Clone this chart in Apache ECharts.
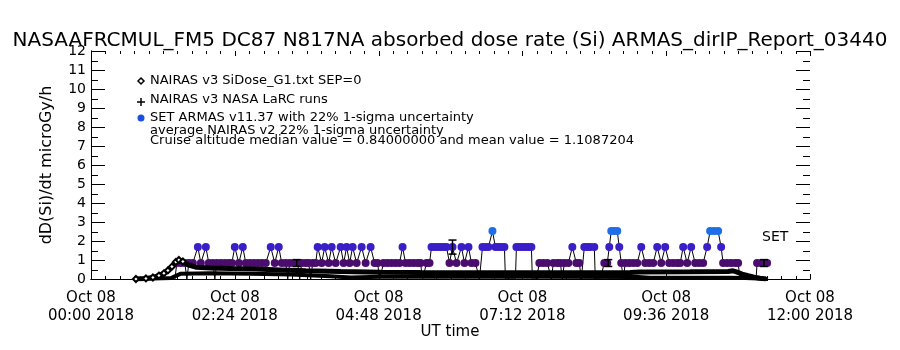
<!DOCTYPE html>
<html>
<head>
<meta charset="utf-8">
<title>ARMAS absorbed dose rate</title>
<script src="https://cdn.jsdelivr.net/npm/echarts@6/dist/echarts.min.js"></script>
<style>
    html, body { margin: 0; padding: 0; background: #fff; }
    #chart { width: 900px; height: 350px; }
</style>
</head>
<body>
<div id="chart"></div>
<script>
// ===== data: time in minutes UT on Oct 08 2018 =====
const xTicks = [0, 144, 288, 432, 576, 720];
const xTickLabels = ['00:00', '02:24', '04:48', '07:12', '09:36', '12:00'];

// NAIRAS v3 SiDose_G1.txt SEP=0 (diamonds)
const sidoseMin = [45, 55, 62, 68, 73, 77, 81, 85, 88, 92, 97, 105, 120, 140, 165, 190, 215, 250, 290, 330, 400, 470, 540, 550, 600, 638, 643, 647, 652, 658, 664, 670, 676];
const sidoseVal = [0, 0.03, 0.08, 0.18, 0.3, 0.45, 0.65, 0.9, 1.0, 0.92, 0.75, 0.62, 0.58, 0.55, 0.52, 0.48, 0.44, 0.4, 0.36, 0.34, 0.33, 0.33, 0.34, 0.37, 0.38, 0.4, 0.43, 0.36, 0.26, 0.17, 0.09, 0.04, 0];

// NAIRAS v3 NASA LaRC runs (plus)
const larcMin = [45, 80, 90, 120, 160, 200, 240, 260, 290, 350, 450, 548, 560, 640, 655, 668, 678];
const larcVal = [0, 0.05, 0.28, 0.3, 0.28, 0.24, 0.15, 0.08, 0.12, 0.12, 0.12, 0.1, 0.07, 0.07, 0.05, 0.02, 0];

// SET ARMAS v11.37
const armasMin = [84, 86, 90, 94, 96, 98, 102, 107, 110, 115, 118, 122, 124, 126, 130, 134, 138, 141, 144, 148,
    152, 155, 159, 163, 167, 171, 175, 180, 184, 188, 191, 195, 197, 199, 203, 207, 209, 211, 215, 218,
    220, 222, 225, 227, 231, 234, 238, 241, 245, 250, 253, 256, 259, 262, 266, 271, 275, 280, 284, 287,
    289, 291, 293, 297, 301, 305, 309, 312, 315, 319, 323, 327, 330, 332, 334, 336, 339, 341, 344, 347,
    350, 353, 356, 359, 362, 366, 371, 374, 378, 381, 385, 389, 392, 395, 398, 402, 405, 408, 411, 414,
    415, 420, 425, 426, 429, 432, 435, 438, 441, 442, 446, 449, 453, 457, 461, 463, 467, 470, 472, 474,
    478, 482, 486, 489, 491, 494, 497, 500, 504, 505, 510, 514, 517, 519, 521, 524, 527, 529, 531, 533,
    535, 539, 543, 547, 551, 555, 559, 563, 567, 571, 575, 579, 583, 587, 590, 593, 597, 601, 605, 609,
    613, 617, 620, 624, 628, 631, 633, 637, 641, 645, 648, 650, 655, 660, 666, 667, 671, 675, 677];
const armasVal = [0, 0.84, 0.84, 0.84, 0, 0.84, 0.84, 1.68, 0.84, 1.68, 0.84, 0.84, 0, 0.84, 0.84, 0.84, 0.84, 0.84, 1.68, 0.84,
    1.68, 0.84, 0.84, 0.84, 0.84, 0.84, 0.84, 1.68, 0.84, 1.68, 0.84, 0.84, 0, 0.84, 0.84, 0.84, 0, 0.84, 0.84, 0.84,
    0, 0.84, 0.84, 1.68, 0.84, 1.68, 0.84, 1.68, 0.84, 1.68, 0.84, 1.68, 0.84, 1.68, 0.84, 1.68, 0.84, 1.68, 0.84, 0.84,
    0, 0, 0.84, 0.84, 0.84, 0.84, 0.84, 1.68, 0.84, 0.84, 0.84, 0.84, 0.84, 0, 0, 0.84, 0.84, 1.68, 1.68, 1.68,
    1.68, 1.68, 1.68, 0.84, 1.68, 0.84, 1.68, 0.84, 1.68, 0.84, 0.84, 0, 1.68, 1.68, 1.68, 2.52, 1.68, 1.68, 1.68, 1.68,
    0, 0, 0, 1.68, 1.68, 1.68, 1.68, 1.68, 1.68, 0, 0, 0.84, 0.84, 0.84, 0, 0.84, 0.84, 0.84, 0, 0.84,
    0.84, 1.68, 0.84, 0.84, 0, 1.68, 1.68, 1.68, 1.68, 0, 0, 0.84, 0.84, 1.68, 2.52, 2.52, 2.52, 1.68, 0.84, 0,
    0.84, 0.84, 0.84, 0.84, 1.68, 0.84, 0.84, 0.84, 1.68, 0.84, 1.68, 0.84, 0.84, 0.84, 0.84, 1.68, 0.84, 1.68, 0.84, 0.84,
    0.84, 1.68, 2.52, 2.52, 2.52, 1.68, 0.84, 0.84, 0.84, 0.84, 0.84, 0, 0, 0, 0, 0.84, 0.84, 0.84, 0.84];

// average NAIRAS v2 22% 1-sigma uncertainty bars
const errMin = [206, 362, 518, 674];
const errLow = [0.66, 1.31, 0.66, 0.66];
const errHigh = [1.02, 2.05, 1.02, 1.02];

// ===== helpers =====
const FONT = "'DejaVu Sans', sans-serif";

function armasColor(v) {
    if (v > 2.2) return '#1f6ee8';
    if (v > 1.2) return '#3a1ec8';
    return '#4a0d6e';
}

function pairs(xs, ys) {
    return xs.map((x, i) => [x, ys[i]]);
}

const chart = echarts.init(document.getElementById('chart'));

// ticks are drawn afterwards (inward, IDL style), so the axes only give lines + labels
const xAxisCommon = {
    type: 'value',
    min: 0,
    max: 720,
    interval: 144,
    axisLine: { lineStyle: { color: '#000', width: 1 } },
    axisTick: { show: false },
    splitLine: { show: false },
};

const yAxisCommon = {
    type: 'value',
    min: 0,
    max: 12,
    interval: 1,
    axisLine: { show: true, lineStyle: { color: '#000', width: 1 } },
    axisTick: { show: false },
    splitLine: { show: false },
};

const option = {
    animation: false,
    backgroundColor: '#fff',
    title: {
        text: 'NASAAFRCMUL_FM5 DC87 N817NA absorbed dose rate (Si) ARMAS_dirIP_Report_03440',
        left: 'center',
        top: 26,
        textStyle: { fontFamily: FONT, fontSize: 20, fontWeight: 'normal', color: '#000' },
    },
    grid: { left: 91, right: 90, top: 51, bottom: 71 },
    xAxis: [
        Object.assign({}, xAxisCommon, {
            position: 'bottom',
            axisLabel: {
                margin: 10,
                lineHeight: 18,
                fontFamily: FONT,
                fontSize: 15,
                color: '#000',
                showMinLabel: true,
                showMaxLabel: true,
                formatter: v => {
                    const i = xTicks.indexOf(v);
                    return i < 0 ? '' : 'Oct 08\n' + xTickLabels[i] + ' 2018';
                },
            },
        }),
        Object.assign({}, xAxisCommon, {
            position: 'top',
            axisLabel: { show: false },
        }),
    ],
    yAxis: [
        Object.assign({}, yAxisCommon, {
            position: 'left',
            name: 'dD(Si)/dt microGy/h',
            nameLocation: 'middle',
            nameGap: 36,
            nameTextStyle: { fontFamily: FONT, fontSize: 16, color: '#000' },
            axisLabel: { margin: 5, fontFamily: FONT, fontSize: 14, color: '#000' },
        }),
        Object.assign({}, yAxisCommon, {
            position: 'right',
            axisLabel: { show: false },
        }),
    ],
    series: [
        {
            name: 'SET ARMAS v11.37',
            type: 'line',
            data: pairs(armasMin, armasVal),
            symbol: 'circle',
            symbolSize: v => (v[1] > 0 ? 8 : 0),
            lineStyle: { color: '#000', width: 1 },
            itemStyle: { color: p => armasColor(p.value[1]) },
            silent: true,
            z: 2,
        },
        {
            name: 'NAIRAS v3 NASA LaRC runs',
            type: 'line',
            data: pairs(larcMin, larcVal),
            symbol: 'none',
            lineStyle: { color: '#000', width: 4 },
            silent: true,
            z: 3,
        },
        {
            name: 'NAIRAS v3 SiDose_G1.txt SEP=0',
            type: 'line',
            data: pairs(sidoseMin, sidoseVal),
            symbol: 'emptyDiamond',
            // hollow diamonds only stand out on the climb
            symbolSize: v => (v[0] < 95 ? 6 : 0),
            lineStyle: { color: '#000', width: 5 },
            itemStyle: { color: '#000', borderColor: '#000', borderWidth: 1.2 },
            silent: true,
            z: 3,
        },
        {
            name: 'uncertainty',
            type: 'custom',
            data: errMin.map((t, i) => [t, errLow[i], errHigh[i]]),
            renderItem: (params, api) => {
                const lo = api.coord([api.value(0), api.value(1)]);
                const hi = api.coord([api.value(0), api.value(2)]);
                const w = 4;
                const st = { stroke: '#000', lineWidth: 1.5 };
                return {
                    type: 'group',
                    children: [
                        { type: 'line', shape: { x1: lo[0], y1: lo[1], x2: hi[0], y2: hi[1] }, style: st },
                        { type: 'line', shape: { x1: lo[0] - w, y1: lo[1], x2: lo[0] + w, y2: lo[1] }, style: st },
                        { type: 'line', shape: { x1: hi[0] - w, y1: hi[1], x2: hi[0] + w, y2: hi[1] }, style: st },
                    ],
                };
            },
            silent: true,
            z: 4,
        },
    ],
    graphic: [
        // legend symbols
        { type: 'polygon', shape: { points: [[141, 78], [144, 81], [141, 84], [138, 81]] },
          style: { fill: '#fff', stroke: '#000', lineWidth: 1.5 } },
        { type: 'line', shape: { x1: 137, y1: 102, x2: 145, y2: 102 }, style: { stroke: '#000', lineWidth: 1.5 } },
        { type: 'line', shape: { x1: 141, y1: 98, x2: 141, y2: 106 }, style: { stroke: '#000', lineWidth: 1.5 } },
        { type: 'circle', shape: { cx: 141, cy: 118, r: 3.5 }, style: { fill: '#1c4fe0' } },
        // legend texts
        { type: 'text', x: 150, y: 81, style: { text: 'NAIRAS v3 SiDose_G1.txt SEP=0', font: '13px ' + FONT, fill: '#000', verticalAlign: 'middle' } },
        { type: 'text', x: 150, y: 100, style: { text: 'NAIRAS v3 NASA LaRC runs', font: '13px ' + FONT, fill: '#000', verticalAlign: 'middle' } },
        { type: 'text', x: 150, y: 118, style: { text: 'SET ARMAS v11.37 with 22% 1-sigma uncertainty', font: '13px ' + FONT, fill: '#000', verticalAlign: 'middle' } },
        { type: 'text', x: 150, y: 131, style: { text: 'average NAIRAS v2 22% 1-sigma uncertainty', font: '13px ' + FONT, fill: '#000', verticalAlign: 'middle' } },
        { type: 'text', x: 150, y: 141, style: { text: 'Cruise altitude median value = 0.84000000 and mean value = 1.1087204', font: '13px ' + FONT, fill: '#000', verticalAlign: 'middle' } },
        { type: 'text', x: 762, y: 237, style: { text: 'SET', font: '14px ' + FONT, fill: '#000', verticalAlign: 'middle' } },
        // x axis title
        { type: 'text', x: 450, y: 332, style: { text: 'UT time', font: '15px ' + FONT, fill: '#000', align: 'center', verticalAlign: 'middle' } },
    ],
};

chart.setOption(option);

// ===== inward ticks on all four sides, placed through the axis scales =====
function addInwardTicks() {
    const toPx = (x, y) => chart.convertToPixel({ gridIndex: 0 }, [x, y]);
    const [xl, yb] = toPx(0, 0);
    const [xr, yt] = toPx(720, 12);
    const st = { stroke: '#000', lineWidth: 1 };
    const els = [];

    // x: major every 144 min, 10 minor steps between
    for (let i = 0; i <= 50; i++) {
        const len = i % 10 === 0 ? 5 : 3;
        const x = Math.round(toPx(i * 14.4, 0)[0]) + 0.5;
        els.push({ type: 'line', silent: true, shape: { x1: x, y1: yb, x2: x, y2: yb - len }, style: st });
        els.push({ type: 'line', silent: true, shape: { x1: x, y1: yt, x2: x, y2: yt + len }, style: st });
    }
    // y: major every 1, minor at halves
    for (let i = 0; i <= 24; i++) {
        const len = i % 2 === 0 ? 14 : 7;
        const y = Math.round(toPx(0, i * 0.5)[1]) + 0.5;
        els.push({ type: 'line', silent: true, shape: { x1: xl, y1: y, x2: xl + len, y2: y }, style: st });
        els.push({ type: 'line', silent: true, shape: { x1: xr, y1: y, x2: xr - len, y2: y }, style: st });
    }
    chart.setOption({ graphic: option.graphic.concat(els) });
}
addInwardTicks();
</script>
</body>
</html>
